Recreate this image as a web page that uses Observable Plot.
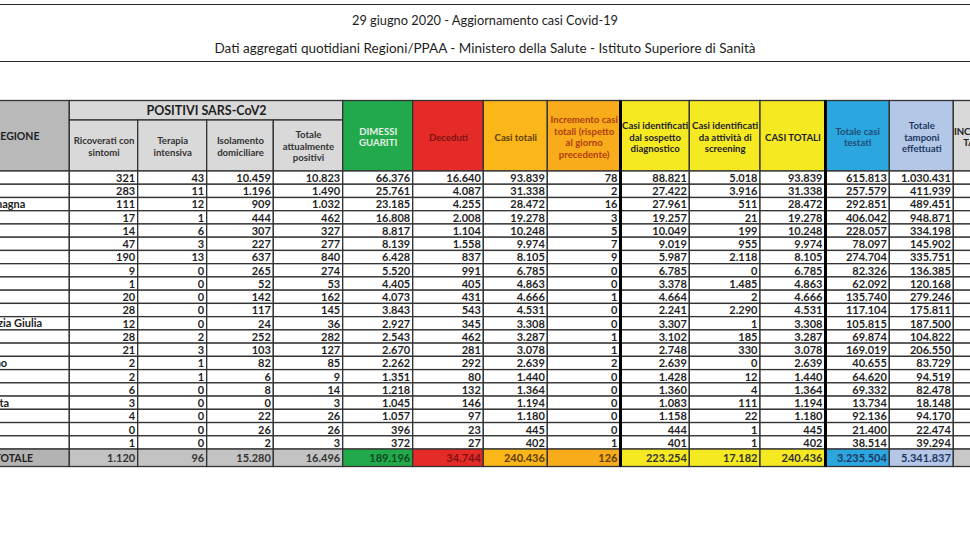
<!DOCTYPE html>
<html>
<head>
<meta charset="utf-8">
<script src="https://cdn.jsdelivr.net/npm/d3@7"></script>
<script src="https://cdn.jsdelivr.net/npm/@observablehq/plot@0.6"></script>
<style>
  html, body { margin: 0; padding: 0; background: #fff; }
  body { width: 970px; height: 545px; overflow: hidden; position: relative; font-family: Lato, "Open Sans", sans-serif; }
  #head { position: absolute; left: 0; top: 4px; width: 970px; height: 58px; box-sizing: border-box;
          border-top: 1.5px solid #2b2b2b; border-bottom: 1.5px solid #2b2b2b; }
  .ttl { position: absolute; left: 0; width: 970px; text-align: center; color: #1e1e1e; line-height: 16px; }
  #t1 { top: 12px; font-size: 12.8px; }
  #t2 { top: 40px; font-size: 13.5px; }
  #chart { position: absolute; left: 0; top: 66px; }
</style>
</head>
<body>
<div id="head"></div>
<div class="ttl" id="t1">29 giugno 2020 - Aggiornamento casi Covid-19</div>
<div class="ttl" id="t2">Dati aggregati quotidiani Regioni/PPAA - Ministero della Salute - Istituto Superiore di Sanità</div>
<div id="chart"></div>
<script>
// ---------------- DATA ----------------
const regioni = ["Lombardia","Piemonte","Emilia-Romagna","Veneto","Toscana","Liguria","Lazio","Marche",
  "P.A. Trento","Campania","Puglia","Friuli Venezia Giulia","Abruzzo","Sicilia","P.A. Bolzano","Umbria",
  "Sardegna","Valle d'Aosta","Calabria","Molise","Basilicata"];
const ricoverati = [321,283,111,17,14,47,190,9,1,20,28,12,28,21,2,2,6,3,4,0,1];
const terapia = [43,11,12,1,6,3,13,0,0,0,0,0,2,3,1,1,0,0,0,0,0];
const isolamento = [10459,1196,909,444,307,227,637,265,52,142,117,24,252,103,82,6,8,0,22,26,2];
const totalePositivi = [10823,1490,1032,462,327,277,840,274,53,162,145,36,282,127,85,9,14,3,26,26,3];
const dimessi = [66376,25761,23185,16808,8817,8139,6428,5520,4405,4073,3843,2927,2543,2670,2262,1351,1218,1045,1057,396,372];
const deceduti = [16640,4087,4255,2008,1104,1558,837,991,405,431,543,345,462,281,292,80,132,146,97,23,27];
const casiTotali = [93839,31338,28472,19278,10248,9974,8105,6785,4863,4666,4531,3308,3287,3078,2639,1440,1364,1194,1180,445,402];
const incremento = [78,2,16,3,5,7,9,0,0,1,0,0,1,1,2,0,0,0,0,0,1];
const sospetto = [88821,27422,27961,19257,10049,9019,5987,6785,3378,4664,2241,3307,3102,2748,2639,1428,1360,1083,1158,444,401];
const screening = [5018,3916,511,21,199,955,2118,0,1485,2,2290,1,185,330,0,12,4,111,22,1,1];
const casiTotaliId = [93839,31338,28472,19278,10248,9974,8105,6785,4863,4666,4531,3308,3287,3078,2639,1440,1364,1194,1180,445,402];
const testati = [615813,257579,292851,406042,228057,78097,274704,82326,62092,135740,117104,105815,69874,169019,40655,64620,69332,13734,92136,21400,38514];
const tamponi = [1030431,411939,489451,948871,334198,145902,335751,136385,120168,279246,175811,187500,104822,206550,83729,94519,82478,18148,94170,22474,39294];
const totaleRiga = [1120,96,15280,16496,189196,34744,240436,126,223254,17182,240436,3235504,5341837];
const intestazioni = ["Ricoverati con\nsintomi","Terapia\nintensiva","Isolamento\ndomiciliare","Totale\nattualmente\npositivi",
  "DIMESSI\nGUARITI","Deceduti","Casi totali","Incremento casi\ntotali (rispetto\nal giorno\nprecedente)",
  "Casi identificati\ndal sospetto\ndiagnostico","Casi identificati\nda attività di\nscreening","CASI TOTALI",
  "Totale casi\ntestati","Totale\ntamponi\neffettuati","INCREMENTO\nTAMPONI"];
const gruppo = "POSITIVI SARS-CoV2";
const etichettaRegione = "REGIONE";
const etichettaTotale = "TOTALE";

// ---------------- LAYOUT / STYLE ----------------
const edges = [-50, 69.3, 137.7, 206.7, 273.3, 342.7, 412.7, 483.3, 547.3, 620, 689.3, 760, 825, 889.3, 953.3, 1017];
const Y_TOP = 100.5, Y_GROUP = 120, Y_HEAD = 171, ROW_H = 13.24, Y_TOT_BOT = 466.5;
const Y_TOT_TOP = Y_HEAD + ROW_H * regioni.length;
const NAME_PAD = -4;          // region names start slightly left of the (off-page) column edge
const LEFT_LABEL_X = -7;      // REGIONE / TOTALE start, first letter falls off the page as in the reference
const headFill = ["#d9d9d9","#d9d9d9","#d9d9d9","#d9d9d9","#22a94c","#e52b27","#fbb61a","#f8ab1b",
  "#f5ea22","#f5ea22","#f5ea22","#2ca6de","#b4c7e7","#d9d9d9"];
const headText = ["#333","#333","#333","#333","#e8efe6","#7d1212","#5c3d05","#b0400e",
  "#1d1d2e","#1d1d2e","#1d1d2e","#1f4e79","#203864","#222"];
const totFill = ["#c3c3c3","#c3c3c3","#c3c3c3","#c3c3c3","#22a94c","#e52b27","#fbb61a","#f8ab1b",
  "#f5ea22","#f5ea22","#f5ea22","#2ca6de","#b4c7e7","#c8c8c8"];
const totText = ["#333","#333","#333","#333","#0c4a22","#7d1212","#5c3d05","#5c3d05",
  "#333","#333","#333","#1f3864","#1f3864","#333"];

const fmt = d3.formatLocale({decimal: ",", thousands: ".", grouping: [3], currency: ["€", ""]}).format(",d");
const series = [ricoverati, terapia, isolamento, totalePositivi, dimessi, deceduti, casiTotali, incremento,
  sospetto, screening, casiTotaliId, testati, tamponi];

// ---------------- BUILD TABLE ----------------
const cells = [];
cells.push({x1: edges[0], x2: edges[1], y1: Y_TOP, y2: Y_HEAD, fill: "#b9b9b9"});
cells.push({x1: edges[1], x2: edges[5], y1: Y_TOP, y2: Y_GROUP, fill: "#d9d9d9"});
intestazioni.forEach((h, i) => {
  const c = i + 1;
  cells.push({x1: edges[c], x2: edges[c + 1], y1: c <= 4 ? Y_GROUP : Y_TOP, y2: Y_HEAD, fill: headFill[i]});
});
regioni.forEach((r, ri) => {
  for (let c = 0; c < edges.length - 1; c++) {
    cells.push({x1: edges[c], x2: edges[c + 1], y1: Y_HEAD + ri * ROW_H, y2: Y_HEAD + (ri + 1) * ROW_H, fill: "#ffffff"});
  }
});
cells.push({x1: edges[0], x2: edges[1], y1: Y_TOT_TOP, y2: Y_TOT_BOT, fill: "#b3b3b3"});
totFill.forEach((f, i) => {
  cells.push({x1: edges[i + 1], x2: edges[i + 2], y1: Y_TOT_TOP, y2: Y_TOT_BOT, fill: f});
});

const headLabels = intestazioni.map((h, i) => {
  const c = i + 1;
  return {x: (edges[c] + edges[c + 1]) / 2, y: c <= 4 ? (Y_GROUP + Y_HEAD) / 2 : (Y_TOP + Y_HEAD) / 2 + 0.5, text: h, color: headText[i]};
});
const groupLabel = [{x: (edges[1] + edges[5]) / 2, y: (Y_TOP + Y_GROUP) / 2, text: gruppo}];
const leftLabels = [
  {x: LEFT_LABEL_X, y: (Y_TOP + Y_HEAD) / 2, text: etichettaRegione},
  {x: LEFT_LABEL_X + 1, y: (Y_TOT_TOP + Y_TOT_BOT) / 2, text: etichettaTotale}
];
const nameLabels = regioni.map((r, ri) => ({x: edges[0] + NAME_PAD, y: Y_HEAD + (ri + 0.5) * ROW_H, text: r}));
const values = [];
series.forEach((s, si) => {
  s.forEach((v, ri) => values.push({x: edges[si + 2] - 3, y: Y_HEAD + (ri + 0.5) * ROW_H + 0.3, text: fmt(v), color: "#1f1f1f"}));
});
totaleRiga.forEach((v, si) => values.push({x: edges[si + 2] - 3, y: (Y_TOT_TOP + Y_TOT_BOT) / 2, text: fmt(v), color: totText[si]}));

const plot = Plot.plot({
  width: 970,
  height: 479,
  margin: 0,
  x: {type: "linear", domain: [0, 970], range: [0, 970], axis: null},
  y: {type: "linear", domain: [66, 545], range: [0, 479], axis: null},
  color: {type: "identity"},
  style: {background: "#fff", fontFamily: "Lato, 'Open Sans', sans-serif", overflow: "hidden"},
  marks: [
    Plot.rect(cells, {x1: "x1", x2: "x2", y1: "y1", y2: "y2", fill: "fill", stroke: "#333", strokeWidth: 1.3}),
    Plot.ruleX([edges[9], edges[12]], {x: d => d, y1: Y_TOP, y2: Y_TOT_BOT, stroke: "#000", strokeWidth: 3}),
    Plot.text(headLabels, {x: "x", y: "y", text: "text", fill: "color", fontSize: 9.6, fontWeight: "bold", lineHeight: 1.22, textAnchor: "middle"}),
    Plot.text(groupLabel, {x: "x", y: "y", text: "text", fill: "#1e1e1e", fontSize: 12.5, fontWeight: "bold", textAnchor: "middle"}),
    Plot.text(leftLabels, {x: "x", y: "y", text: "text", fill: "#222", fontSize: 10.5, fontWeight: "bold", textAnchor: "start"}),
    Plot.text(nameLabels, {x: "x", y: "y", text: "text", fill: "#222", fontSize: 11, fontWeight: "bold", textAnchor: "start"}),
    Plot.text(values, {x: "x", y: "y", text: "text", fill: "color", fontSize: 11, fontWeight: "bold", textAnchor: "end"})
  ]
});
document.getElementById("chart").appendChild(plot);
</script>
</body>
</html>
